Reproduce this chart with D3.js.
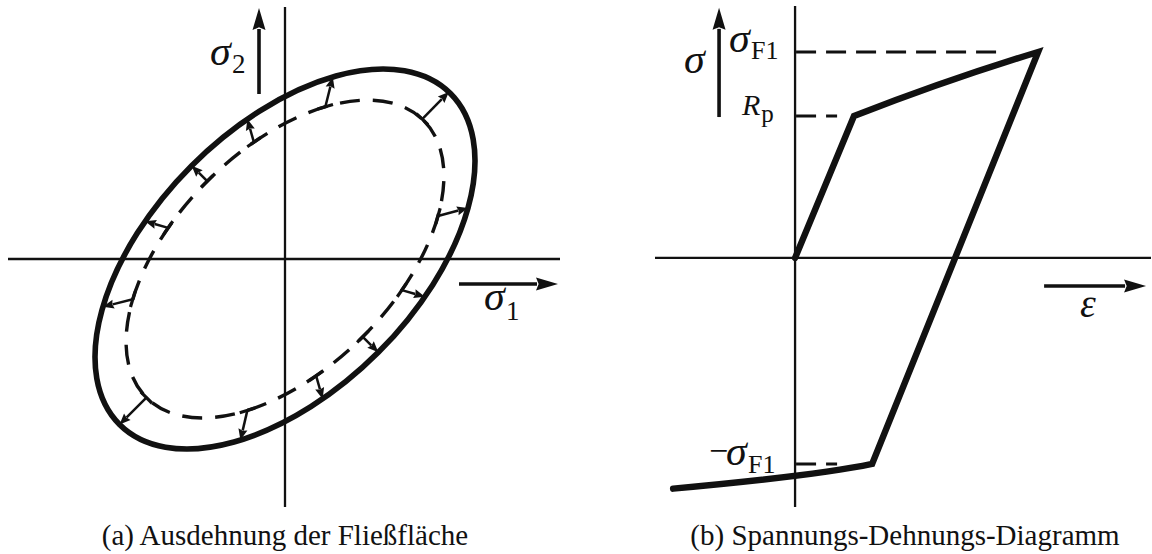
<!DOCTYPE html>
<html>
<head>
<meta charset="utf-8">
<script src="https://cdn.jsdelivr.net/npm/d3@7"></script>
<style>
  html, body { margin: 0; padding: 0; background: #fff; }
  svg { display: block; }
  text { font-family: "Liberation Serif", "Times New Roman", serif; fill: #111; }
</style>
</head>
<body>
<svg id="fig" width="1152" height="554"></svg>
<script>
// ---------- Panel (a): expansion of the yield surface ----------
// Yield surfaces as ellipses whose major axis lies on the σ1 = σ2 diagonal
const surfaceNames = ["initial", "expanded"];
const surfaceMajor = [1.96, 2.34];   // semi-axis along the diagonal
const surfaceMinor = [1.10, 1.32];   // semi-axis across the diagonal
// Ellipse parameter angles (deg) at which expansion arrows are drawn
const arrowAngles = [1, 46, 72, 90, 108, 134, 180, 227, 252, 270, 288, 315];

// ---------- Panel (b): stress-strain diagram (stress in units of σF1) ----------
const loadStrain   = [0, 0.286, 0.733, 1.18];   // elastic, then hardening to σF1
const loadStress   = [0, 0.689, 0.854, 1.00];
const unloadStrain = [1.18, 0.374, 0.000, -0.592]; // elastic unloading, reversed hardening
const unloadStress = [1.00, -1.00, -1.058, -1.12];
const levelNames   = ["σF1", "Rp", "−σF1"];
const levelStress  = [1.00, 0.689, -1.00];
const leaderEnds   = [0.976, 0.204, 0.204];      // strain where each dashed leader stops

const captions = ["(a) Ausdehnung der Fließfläche", "(b) Spannungs-Dehnungs-Diagramm"];

const INK = "#111";
const svg = d3.select("#fig");

// Scales
const xa = d3.scaleLinear().domain([-2.77, 2.75]).range([8, 560]);
const ya = d3.scaleLinear().domain([2.52, -2.48]).range([7, 507]);
const xb = d3.scaleLinear().domain([-0.68, 1.728]).range([655, 1151]);
const yb = d3.scaleLinear().domain([1.223, -1.209]).range([6, 507]);

// Helpers
function arrow(g, x1, y1, x2, y2, width, headLen, headHalf) {
  const dx = x2 - x1, dy = y2 - y1, L = Math.hypot(dx, dy);
  const ux = dx / L, uy = dy / L;
  const bx = x2 - ux * headLen, by = y2 - uy * headLen;
  g.append("line")
    .attr("x1", x1).attr("y1", y1)
    .attr("x2", bx + ux * 1).attr("y2", by + uy * 1)
    .attr("stroke", INK).attr("stroke-width", width);
  g.append("path")
    .attr("d", `M${x2},${y2}L${bx - uy * headHalf},${by + ux * headHalf}L${bx + ux * headLen * 0.12},${by + uy * headLen * 0.12}L${bx + uy * headHalf},${by - ux * headHalf}Z`)
    .attr("fill", INK);
}
function label(g, x, y, str, size, italic) {
  return g.append("text").attr("x", x).attr("y", y)
    .attr("font-size", size).attr("font-style", italic ? "italic" : "normal").text(str);
}
// symbol with a subscript placed right after it
function symbolSub(g, x, y, sym, sub, size, subSize, drop) {
  const t = label(g, x, y, sym, size, true);
  const w = t.node().getComputedTextLength();
  label(g, x + w + size * 0.03, y + drop, sub, subSize, false);
  return t;
}

// ================= Panel (a) =================
const ga = svg.append("g");
ga.append("line").attr("x1", xa(-2.77)).attr("x2", xa(2.75)).attr("y1", ya(0)).attr("y2", ya(0))
  .attr("stroke", INK).attr("stroke-width", 2.3);
ga.append("line").attr("x1", xa(0)).attr("x2", xa(0)).attr("y1", ya(2.52)).attr("y2", ya(-2.48))
  .attr("stroke", INK).attr("stroke-width", 2.3);

const k = xa(1) - xa(0);
const surfaces = surfaceNames.map((n, i) => ({ name: n, a: surfaceMajor[i], b: surfaceMinor[i] }));
ga.selectAll("ellipse.surface").data(surfaces).join("ellipse")
  .attr("class", "surface")
  .attr("cx", xa(0)).attr("cy", ya(0))
  .attr("rx", d => d.a * k).attr("ry", d => d.b * k)
  .attr("transform", `rotate(-45, ${xa(0)}, ${ya(0)})`)
  .attr("fill", "none").attr("stroke", INK)
  .attr("stroke-width", d => d.name === "initial" ? 3.4 : 5.6)
  .attr("stroke-dasharray", d => d.name === "initial" ? "20 13" : null);

// point on a surface (data units) at parameter angle s
const R2 = Math.SQRT2;
function onSurface(sf, s) {
  const u = sf.a * Math.cos(s), v = sf.b * Math.sin(s);
  return [(u - v) / R2, (u + v) / R2];
}
const inner = surfaces[0], outer = surfaces[1];
arrowAngles.forEach(deg => {
  const s = deg * Math.PI / 180;
  const p0 = onSurface(inner, s), p1 = onSurface(outer, s);
  const x0 = xa(p0[0]), y0 = ya(p0[1]), x1 = xa(p1[0]), y1 = ya(p1[1]);
  arrow(ga, x0, y0, x1, y1, 2.5, 11, 4.6);
  // tangent tick at the arrow foot
  const t1 = (-inner.a * Math.sin(s) - inner.b * Math.cos(s)) / R2;
  const t2 = (-inner.a * Math.sin(s) + inner.b * Math.cos(s)) / R2;
  const tx = t1 * k, ty = -t2 * k, tl = Math.hypot(tx, ty);
  ga.append("line")
    .attr("x1", x0 - tx / tl * 8).attr("y1", y0 - ty / tl * 8)
    .attr("x2", x0 + tx / tl * 8).attr("y2", y0 + ty / tl * 8)
    .attr("stroke", INK).attr("stroke-width", 3.2);
});

// direction arrows and labels
arrow(ga, xa(-0.26), ya(1.65), xa(-0.26), ya(2.51), 3.6, 22, 6.5);
arrow(ga, xa(1.74), ya(-0.25), xa(2.73), ya(-0.25), 3.6, 22, 6.5);
symbolSub(ga, 210, 65, "σ", "2", 42, 27, 8);
symbolSub(ga, 484, 310, "σ", "1", 42, 27, 10);

ga.append("text").attr("x", xa(0)).attr("y", 545).attr("text-anchor", "middle")
  .attr("font-size", 29).text(captions[0]);

// ================= Panel (b) =================
const gb = svg.append("g");
gb.append("line").attr("x1", xb(-0.68)).attr("x2", xb(1.728)).attr("y1", yb(0)).attr("y2", yb(0))
  .attr("stroke", INK).attr("stroke-width", 2.3);
gb.append("line").attr("x1", xb(0)).attr("x2", xb(0)).attr("y1", yb(1.223)).attr("y2", yb(-1.209))
  .attr("stroke", INK).attr("stroke-width", 2.3);

// dashed leaders to the stress levels
gb.selectAll("line.leader").data(levelNames.map((n, i) => ({ n, s: levelStress[i], e: leaderEnds[i] })))
  .join("line").attr("class", "leader")
  .attr("x1", xb(0) + 1).attr("x2", d => xb(d.e))
  .attr("y1", d => yb(d.s)).attr("y2", d => yb(d.s))
  .attr("stroke", INK).attr("stroke-width", 3).attr("stroke-dasharray", "20 10");

// stress-strain path: straight elastic branches, curved hardening branches
const P = (e, s) => [xb(e), yb(s)];
function quadThrough(ctx, a, m, b) {
  const cx = 2 * m[0] - (a[0] + b[0]) / 2, cy = 2 * m[1] - (a[1] + b[1]) / 2;
  ctx.quadraticCurveTo(cx, cy, b[0], b[1]);
}
const L = loadStrain.map((e, i) => P(e, loadStress[i]));
const U = unloadStrain.map((e, i) => P(e, unloadStress[i]));
const ctx = d3.path();
ctx.moveTo(...L[0]);
ctx.lineTo(...L[1]);
quadThrough(ctx, L[1], L[2], L[3]);
ctx.lineTo(...U[1]);
quadThrough(ctx, U[1], U[2], U[3]);
gb.append("path").attr("d", ctx.toString())
  .attr("fill", "none").attr("stroke", INK).attr("stroke-width", 6.4)
  .attr("stroke-linejoin", "miter").attr("stroke-linecap", "round");

// direction arrows
arrow(gb, xb(-0.369), yb(0.684), xb(-0.369), yb(1.214), 3.6, 22, 6.5);
arrow(gb, xb(1.209), yb(-0.136), xb(1.704), yb(-0.136), 3.6, 22, 6.5);

// labels
label(gb, 684, 73, "σ", 42, true);
symbolSub(gb, 729, yb(levelStress[0]), "σ", "F1", 42, 26, 7);
symbolSub(gb, 742, yb(levelStress[1]) - 1, "R", "p", 30, 25, 7);
label(gb, 709, yb(levelStress[2]) - 2, "−", 34, false);
symbolSub(gb, 726, yb(levelStress[2]) + 1, "σ", "F1", 42, 26, 8);
label(gb, 1080, 317, "ε", 40, true);

gb.append("text").attr("x", 905).attr("y", 545).attr("text-anchor", "middle")
  .attr("font-size", 29).text(captions[1]);
</script>
</body>
</html>
